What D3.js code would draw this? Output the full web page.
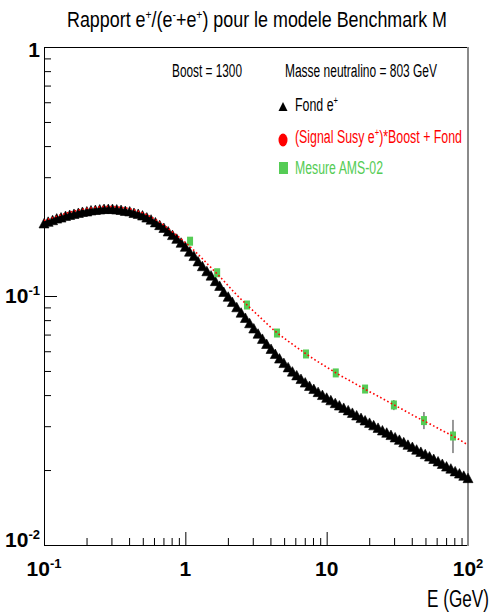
<!DOCTYPE html>
<html><head><meta charset="utf-8">
<script src="https://cdn.jsdelivr.net/npm/d3@7/dist/d3.min.js"></script>
<style>
body{margin:0;background:#fff}
svg{display:block}
text{font-family:"Liberation Sans Narrow","Arial Narrow","Liberation Sans",Arial,sans-serif}
</style>
</head><body>
<svg id="c" width="496" height="613"></svg>
<script>
// ---------------- data ----------------
const fondEnergies = [
0.1,0.107,0.115,0.123,0.132,0.142,0.152,0.163,0.175,0.187,0.201,0.215,0.231,0.248,0.266,0.285,0.305,0.327,0.351,0.376,0.404,0.433,0.464,0.498,0.534,0.572,0.614,0.658,0.705,0.756,0.811,0.870,0.933,
1.00,1.07,1.15,1.23,1.32,1.42,1.52,1.63,1.75,1.87,2.01,2.15,2.31,2.48,2.66,2.85,3.05,3.27,3.51,3.76,4.04,4.33,4.64,4.98,5.34,5.72,6.14,6.58,7.05,7.56,8.11,8.70,9.33,
10.0,10.7,11.5,12.3,13.2,14.2,15.2,16.3,17.5,18.7,20.1,21.5,23.1,24.8,26.6,28.5,30.5,32.7,35.1,37.6,40.4,43.3,46.4,49.8,53.4,57.2,61.4,65.8,70.5,75.6,81.1,87.0,93.3,100];
const fondValues = [
0.196,0.199,0.202,0.205,0.207,0.210,0.212,0.214,0.216,0.218,
0.219,0.221,0.222,0.223,0.224,0.224,0.224,0.223,0.222,0.220,
0.219,0.216,0.214,0.211,0.207,0.203,0.198,0.193,0.188,0.182,
0.176,0.170,0.164,0.158,0.151,0.145,0.138,0.132,0.126,0.121,
0.115,0.110,0.104,0.0995,0.0948,0.0903,0.0859,0.0818,0.0779,0.0742,
0.0707,0.0674,0.0643,0.0614,0.0586,0.0562,0.0539,0.0518,0.0498,0.0481,
0.0465,0.0450,0.0436,0.0424,0.0412,0.0401,0.0391,0.0382,0.0372,0.0364,
0.0356,0.0348,0.0340,0.0332,0.0324,0.0317,0.0310,0.0303,0.0296,0.0289,
0.0283,0.0277,0.0271,0.0265,0.0259,0.0253,0.0248,0.0242,0.0237,0.0232,
0.0227,0.0222,0.0217,0.0212,0.0207,0.0203,0.0198,0.0194,0.0190,0.0186];

const signalEnergies = [0.1,0.123,0.152,0.187,0.231,0.285,0.351,0.433,0.534,0.658,0.811,1.00,1.23,1.52,1.87,2.31,2.85,3.51,4.33,5.34,6.58,8.11,10.0,12.3,15.2,18.7,23.1,28.5,35.1,43.3,53.4,65.8,81.1,100];
const signalValues = [0.201,0.209,0.217,0.223,0.227,0.229,0.227,0.222,0.212,0.198,0.181,0.164,0.147,0.130,0.115,0.101,0.0900,0.0805,0.0721,0.0659,0.0605,0.0558,0.0518,0.0482,0.0451,0.0422,0.0396,0.0371,0.0348,0.0326,0.0307,0.0288,0.0271,0.0252];

const amsEnergies = [1.08,1.68,2.73,4.45,7.14,11.6,18.7,29.9,48.8,78.3];
const amsValues   = [0.166,0.124,0.0920,0.0710,0.0585,0.0491,0.0423,0.0365,0.0316,0.0274];
const amsErrLow   = [0.164,0.122,0.0906,0.0700,0.0577,0.0484,0.0416,0.0348,0.0292,0.0234];
const amsErrHigh  = [0.168,0.126,0.0934,0.0720,0.0593,0.0498,0.0430,0.0382,0.0342,0.0318];

const xTickValues = [0.1, 1, 10, 100];
const xTickLabels = [["10","-1"],["1",""],["10",""],["10","2"]];
const yTickValues = [0.01, 0.1, 1];
const yTickLabels = [["10","-2"],["10","-1"],["1",""]];

const titleParts = [["Rapport e",0],["+",1],["/(e",0],["-",1],["+e",0],["+",1],[") pour le modele Benchmark M",0]];
const legendInfo = ["Boost = 1300", "Masse neutralino = 803 GeV"];
const seriesNames = [[["Fond e",0],["+",1]], [["(Signal Susy e",0],["+",1],[")*Boost + Fond",0]], [["Mesure AMS-02",0]]];
const xTitle = "E (GeV)";

// ---------------- drawing ----------------
const RED = "#ff0000", GREEN = "#55cc55";
const svg = d3.select("#c");
const x = d3.scaleLog().domain([0.1, 100]).range([44, 468]);
const y = d3.scaleLog().domain([0.01, 1]).range([545, 47]);
const [x0, x1] = x.range(), [y0, y1] = y.range();

function richText(sel, parts, size, supSize, rise) {
  parts.forEach(([t, sup], i) => {
    const prevSup = i > 0 && parts[i-1][1];
    const ts = sel.append("tspan").text(t).attr("font-size", sup ? supSize : size);
    if (sup && !prevSup) ts.attr("dy", -rise);
    if (!sup && prevSup) ts.attr("dy", rise);
  });
  return sel;
}

// title
richText(svg.append("text").attr("x", 67).attr("y", 27)
  .attr("textLength", 380).attr("lengthAdjust", "spacingAndGlyphs"),
  titleParts, 22.5, 13, 8);

const isMajor = v => Math.abs(Math.log10(v) - Math.round(Math.log10(v))) < 1e-6;

// x axis
const gx = svg.append("g").attr("transform", `translate(0,${y0})`);
gx.call(d3.axisBottom(x).tickValues(x.ticks().filter(v => !isMajor(v))).tickSize(-7).tickSizeOuter(0).tickFormat(""));
gx.append("g").call(d3.axisBottom(x).tickValues(xTickValues).tickSize(-13).tickSizeOuter(0).tickFormat(""))
  .select(".domain").remove();
gx.selectAll("line,path").attr("stroke", "#000");

// y axis
const gy = svg.append("g").attr("transform", `translate(${x0},0)`);
gy.call(d3.axisLeft(y).tickValues(y.ticks().filter(v => !isMajor(v))).tickSize(-7).tickSizeOuter(0).tickFormat(""));
gy.append("g").call(d3.axisLeft(y).tickValues(yTickValues).tickSize(-13).tickSizeOuter(0).tickFormat(""))
  .select(".domain").remove();
gy.selectAll("line,path").attr("stroke", "#000");

// frame top & right
svg.append("line").attr("x1", x0).attr("x2", x1).attr("y1", y1 + 0.5).attr("y2", y1 + 0.5).attr("stroke", "#000");
svg.append("line").attr("x1", x1).attr("x2", x1).attr("y1", y1).attr("y2", y0 + 1).attr("stroke", "#8a8a8a").attr("stroke-width", 2);

// tick labels
xTickValues.forEach((v, i) => {
  const [b, s] = xTickLabels[i];
  const t = svg.append("text").attr("x", x(v)).attr("y", 576).attr("text-anchor", "middle").attr("font-weight", "bold");
  richText(t, s ? [[b,0],[s,1]] : [[b,0]], 21, 13, 8);
});
const yOff = [2, 7, 10];
yTickValues.forEach((v, i) => {
  const [b, s] = yTickLabels[i];
  const t = svg.append("text").attr("x", 40).attr("y", y(v) + yOff[i]).attr("text-anchor", "end").attr("font-weight", "bold");
  richText(t, s ? [[b,0],[s,1]] : [[b,0]], 21, 13, 8);
});

// axis title
svg.append("text").attr("x", 489).attr("y", 607).attr("text-anchor", "end")
  .attr("font-size", 23).attr("textLength", 62).attr("lengthAdjust", "spacingAndGlyphs").text(xTitle);

// background triangles
const tri = (cx, cy, w, h) => `M${cx - w/2},${cy + h/2}L${cx + w/2},${cy + h/2}L${cx},${cy - h/2}Z`;
svg.append("g").selectAll("path").data(fondEnergies.map((e, i) => ({e, v: fondValues[i]})))
  .join("path").attr("d", d => tri(x(d.e), y(d.v), 10, 9.5))
  .attr("fill", "#000").attr("stroke", "#000").attr("stroke-width", 0.6).attr("stroke-linejoin", "round");

// AMS error bars & squares
const ams = amsEnergies.map((e, i) => ({e, v: amsValues[i], lo: amsErrLow[i], hi: amsErrHigh[i]}));
svg.append("g").selectAll("line").data(ams).join("line")
  .attr("x1", d => x(d.e)).attr("x2", d => x(d.e)).attr("y1", d => y(d.hi)).attr("y2", d => y(d.lo))
  .attr("stroke", "#333").attr("stroke-width", 1);
svg.append("g").selectAll("rect").data(ams).join("rect")
  .attr("x", d => x(d.e) - 3).attr("y", d => y(d.v) - 4.5).attr("width", 6).attr("height", 9).attr("fill", GREEN);

// signal + background dotted line
const sig = signalEnergies.map((e, i) => ({e, v: signalValues[i]}));
svg.append("path").datum(sig)
  .attr("d", d3.line().x(d => x(d.e)).y(d => y(d.v)).curve(d3.curveMonotoneX))
  .attr("fill", "none").attr("stroke", RED).attr("stroke-width", 1.6).attr("stroke-dasharray", "1.6,2.4");

// legend
const lf = 18;
svg.append("text").attr("x", 172).attr("y", 77).attr("font-size", lf)
  .attr("textLength", 70).attr("lengthAdjust", "spacingAndGlyphs").text(legendInfo[0]);
svg.append("text").attr("x", 285).attr("y", 77).attr("font-size", lf)
  .attr("textLength", 152).attr("lengthAdjust", "spacingAndGlyphs").text(legendInfo[1]);

const legRows = [{y: 111, color: "#000", len: 43}, {y: 143, color: RED, len: 167}, {y: 174, color: GREEN, len: 88}];
legRows.forEach((r, i) => {
  const t = svg.append("text").attr("x", 295).attr("y", r.y).attr("fill", r.color)
    .attr("textLength", r.len).attr("lengthAdjust", "spacingAndGlyphs");
  richText(t, seriesNames[i], lf, 11, 7);
});
svg.append("path").attr("d", tri(283, 106.5, 9, 9)).attr("fill", "#000");
svg.append("ellipse").attr("cx", 283).attr("cy", 140).attr("rx", 4.5).attr("ry", 6.5).attr("fill", RED);
svg.append("rect").attr("x", 279).attr("y", 162).attr("width", 9).attr("height", 12).attr("fill", GREEN);
</script>
</body></html>
